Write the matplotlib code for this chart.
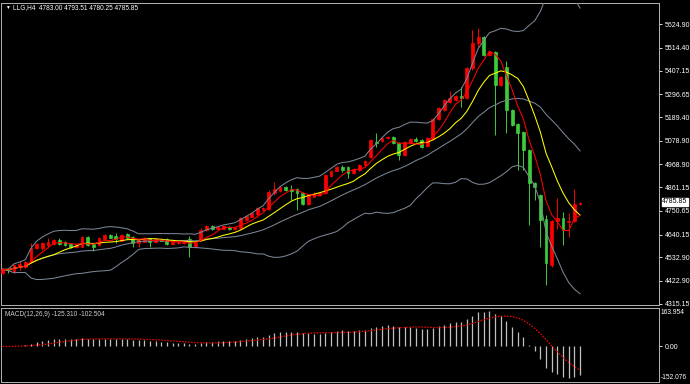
import numpy as np
import pandas as pd
import matplotlib
matplotlib.use("Agg")
from matplotlib import pyplot as plt
from matplotlib import transforms

# chart header
symbol = "LLG,H4"
header_ohlc = "4783.00 4793.51 4780.25 4785.85"
last_price = 4785.85

# H4 candles
opens = [4462, 4476, 4466, 4487, 4487, 4513, 4576, 4576, 4591, 4596,
         4614, 4606, 4596, 4580, 4583, 4630, 4594, 4591, 4618, 4638,
         4633, 4611, 4641, 4630, 4602, 4606, 4622, 4605, 4619, 4619,
         4596, 4599, 4599, 4618, 4580, 4614, 4661, 4680, 4665, 4667,
         4677, 4665, 4669, 4708, 4723, 4736, 4755, 4758, 4833, 4844,
         4864, 4851, 4852, 4833, 4783, 4817, 4825, 4836, 4914, 4939,
         4957, 4955, 4929, 4942, 4965, 5004, 5074, 5079, 5090, 5098,
         5067, 5012, 5067, 5087, 5082, 5054, 5087, 5180, 5223, 5261,
         5269, 5286, 5277, 5418, 5535, 5565, 5480, 5495, 5340, 5425,
         5223, 5157, 5121, 5036, 4882, 4825, 4711, 4498, 4705, 4716,
         4700, 4705, 4783.00]
highs = [4484, 4483, 4502, 4516, 4518, 4602, 4600, 4605, 4622, 4620,
         4622, 4611, 4600, 4595, 4634, 4635, 4598, 4627, 4642, 4642,
         4646, 4642, 4646, 4634, 4618, 4627, 4626, 4622, 4623, 4623,
         4611, 4609, 4615, 4633, 4603, 4671, 4685, 4684, 4681, 4684,
         4681, 4681, 4720, 4731, 4744, 4770, 4770, 4848, 4887, 4868,
         4868, 4872, 4856, 4837, 4832, 4840, 4840, 4923, 4942, 4962,
         4965, 4959, 4950, 4970, 4990, 5087, 5114, 5095, 5102, 5102,
         5071, 5079, 5091, 5096, 5087, 5094, 5185, 5238, 5274, 5312,
         5293, 5332, 5422, 5597, 5605, 5570, 5500, 5500, 5383, 5452,
         5228, 5162, 5126, 5040, 4887, 4830, 4731, 4710, 4810, 4747,
         4739, 4852, 4793.51]
lows = [4455, 4461, 4462, 4474, 4483, 4505, 4572, 4570, 4576, 4592,
        4591, 4586, 4576, 4576, 4580, 4588, 4564, 4588, 4614, 4622,
        4599, 4608, 4618, 4583, 4583, 4603, 4583, 4601, 4608, 4590,
        4592, 4595, 4596, 4533, 4576, 4610, 4657, 4660, 4661, 4664,
        4663, 4661, 4666, 4704, 4720, 4723, 4751, 4755, 4825, 4840,
        4844, 4802, 4755, 4778, 4779, 4814, 4821, 4832, 4910, 4935,
        4934, 4903, 4925, 4938, 4961, 5000, 5051, 5075, 5086, 5063,
        4989, 5008, 5063, 5074, 5047, 5050, 5083, 5176, 5219, 5257,
        5265, 5238, 5273, 5410, 5519, 5475, 5476, 5106, 5335, 5114,
        5148, 4942, 4942, 4685, 4802, 4583, 4404, 4490, 4665, 4591,
        4630, 4700, 4780.25]
closes = [4477, 4473, 4497, 4501, 4513, 4578, 4596, 4599, 4606, 4614,
          4596, 4591, 4580, 4591, 4630, 4591, 4583, 4622, 4638, 4626,
          4618, 4638, 4622, 4602, 4614, 4622, 4605, 4618, 4611, 4594,
          4606, 4605, 4611, 4583, 4599, 4661, 4680, 4665, 4677, 4680,
          4667, 4677, 4716, 4727, 4739, 4763, 4766, 4840, 4852, 4864,
          4848, 4846, 4833, 4782, 4828, 4828, 4836, 4918, 4937, 4957,
          4942, 4927, 4945, 4965, 4985, 5082, 5067, 5090, 5098, 5067,
          5012, 5074, 5087, 5079, 5051, 5090, 5180, 5233, 5269, 5277,
          5288, 5281, 5418, 5535, 5565, 5480, 5495, 5340, 5378, 5223,
          5152, 5114, 5036, 4880, 4861, 4708, 4506, 4705, 4716, 4661,
          4703, 4783, 4785.85]

# price scale labels
price_ticks = [5624.90, 5514.40, 5407.15, 5296.65, 5189.40, 5078.90, 4968.90,
               4861.15, 4750.65, 4640.15, 4532.90, 4422.90, 4315.15]

# MACD window
macd_title = "MACD(12,26,9) -125.310 -102.504"
macd_max = 163.954
macd_min = -152.076

plt.rcParams['font.family'] = ['Liberation Sans', 'DejaVu Sans']
fs = 5.0

df = pd.DataFrame({'open': opens, 'high': highs, 'low': lows, 'close': closes})
idx = np.arange(len(df))
c = df['close']

# indicators
ma_fast = c.rolling(5, min_periods=1).mean()
ma_slow = c.rolling(10, min_periods=1).mean()
bb_mid = c.rolling(20, min_periods=1).mean()
bb_std = c.rolling(20, min_periods=1).std(ddof=0)
bb_up = bb_mid + 2 * bb_std
bb_dn = bb_mid - 2 * bb_std
macd = c.ewm(span=12, adjust=False).mean() - c.ewm(span=26, adjust=False).mean()
signal = macd.rolling(9, min_periods=1).mean()

fig = plt.figure(figsize=(6.9, 3.84), dpi=100, facecolor='black')
ax = fig.add_axes([1 / 690, 1 - 305 / 384, 658 / 690, 302 / 384])
axm = fig.add_axes([1 / 690, 1 - 382 / 384, 658 / 690, 74 / 384])

for a in (ax, axm):
    a.set_facecolor('black')
    for s in a.spines.values():
        s.set_color('#b4b4b4')
        s.set_linewidth(0.7)
    a.set_xlim(-0.30, 115.95)
    a.set_xticks([])
    a.yaxis.tick_right()
    a.tick_params(axis='y', length=2.5, width=0.6, color='white',
                  labelcolor='white', labelsize=fs, pad=1.5)

# candles (red = up, green = down)
up = df['close'] >= df['open']
colors = np.where(up, '#ff0000', '#3ccc3c')
ax.vlines(idx, df['low'], df['high'], colors=colors, linewidth=0.7, zorder=2)
ax.bar(idx, (df['close'] - df['open']).abs(), bottom=np.minimum(df['open'], df['close']),
       width=0.5, color=colors, edgecolor=colors, linewidth=0.5, zorder=3)

# bands and moving averages
band_col = '#7a8696'
ax.plot(idx, bb_up, color=band_col, lw=0.75, zorder=4)
ax.plot(idx, bb_mid, color=band_col, lw=0.75, zorder=4)
ax.plot(idx, bb_dn, color=band_col, lw=0.75, zorder=4)
ax.plot(idx, ma_slow, color='#ffff00', lw=0.75, zorder=5)
ax.plot(idx, ma_fast, color='#ff0000', lw=0.75, zorder=5)

ax.set_ylim(4310.4, 5723.2)
ax.set_yticks(price_ticks)
ax.set_yticklabels(['%.2f' % v for v in price_ticks])

trans = transforms.blended_transform_factory(ax.transAxes, ax.transData)
ax.text(1.0045, last_price + 8, '%.2f' % last_price, transform=trans, ha='left', va='center',
        fontsize=fs, color='black',
        bbox=dict(facecolor='white', edgecolor='white', pad=0.3), zorder=10)

fig.text(5 / 690, 1 - 7.5 / 384, '\u25bc', fontsize=3.5, color='white', va='center')
fig.text(13 / 690, 1 - 7.5 / 384, symbol + '  ' + header_ohlc, fontsize=4.7,
         color='white', va='center')

# MACD
axm.vlines(idx, 0, macd, colors='#c0c0c0', linewidth=0.9)
axm.plot(idx, signal, color='#ff0000', lw=0.9, ls=(0, (1.2, 1.2)))
axm.set_ylim(macd_min, macd_max)
axm.set_yticks([0])
axm.set_yticklabels(['0.00'])
axm.text(1.003, 0.99, '%.3f' % macd_max, transform=axm.transAxes, ha='left', va='top',
         fontsize=4.8, color='white')
axm.text(1.003, 0.01, '%.3f' % macd_min, transform=axm.transAxes, ha='left', va='bottom',
         fontsize=4.8, color='white')
fig.text(5 / 690, 1 - 314 / 384, macd_title, fontsize=4.7, color='#d0d0d0', va='center')

plt.savefig('out.png', dpi=100, facecolor='black')
